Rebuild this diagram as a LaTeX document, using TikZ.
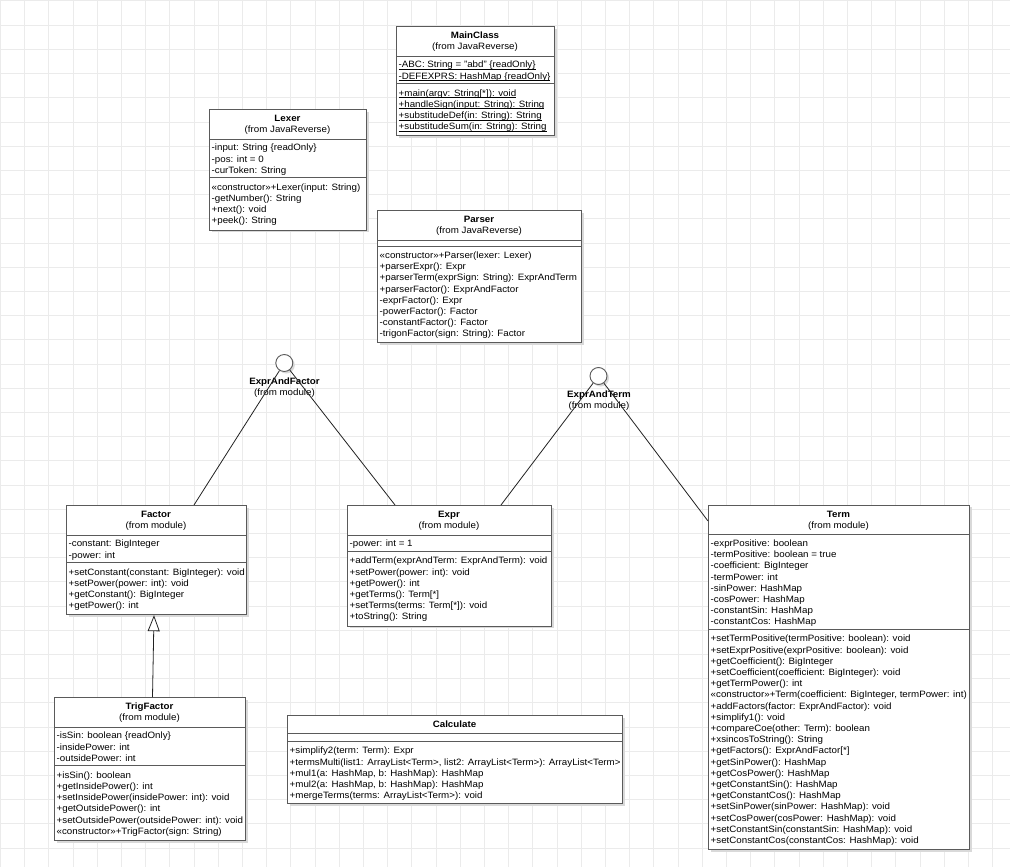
\documentclass[tikz,border=0pt]{standalone}
\usepackage{fontspec}
\setmainfont[FakeStretch=1.06]{Liberation Sans}
\usetikzlibrary{arrows.meta,shadows}
\definecolor{gridc}{HTML}{EBEBEB}
\definecolor{boxc}{HTML}{5A5A5A}
\definecolor{shadowc}{HTML}{D9D9D9}
\definecolor{linec}{HTML}{222222}
\newcommand\umlfont{\fontsize{9.2}{11.2}\selectfont}
\newcommand\fl{\rule{0pt}{9pt}}
\newcommand\ulx[1]{\setbox0\hbox{#1}\rlap{\rule[-1.6pt]{\wd0}{0.55pt}}\box0}
\tikzset{
  gridline/.style={draw=gridc, line width=1pt},
  classbox/.style={draw=boxc, fill=white, line width=0.9pt, inner sep=0pt, anchor=north west,
    drop shadow={shadow xshift=2.5pt, shadow yshift=-2.5pt, fill=shadowc, opacity=1}},
  sepline/.style={draw=boxc, line width=0.9pt},
  txt/.style={inner sep=0pt, anchor=north west, align=left, font=\umlfont, text=black},
  ttl/.style={inner sep=0pt, anchor=base, font=\umlfont\bfseries, text=black},
  frm/.style={inner sep=0pt, anchor=base, font=\umlfont, text=black},
  lolli/.style={circle, draw=boxc, fill=white, line width=0.9pt, minimum size=17pt, inner sep=0pt,
    drop shadow={shadow xshift=2pt, shadow yshift=-2pt, fill=shadowc, opacity=1}},
  conn/.style={draw=linec, line width=0.8pt},
  inh/.style={draw=linec, line width=0.8pt, -{Triangle[open, length=16pt, width=12pt, fill=white]}}
}
\begin{document}
\begin{tikzpicture}[x=1pt,y=-1pt]
\useasboundingbox (0,0) rectangle (1010,867);
\fill[white] (0,0) rectangle (1010,867);
\foreach \i in {0,...,41} { \draw[gridline] (\i*24.2+0.5,0) -- (\i*24.2+0.5,867); }
\foreach \j in {0,...,35} { \draw[gridline] (0,\j*24.2+1) -- (1010,\j*24.2+1); }

% ---------- MainClass ----------
\node[classbox, minimum width=158pt, minimum height=109.3pt] (main) at (396,26) {};
\node[ttl] (mainT) at (475,38.5) {MainClass};
\node[frm] (mainF) at (475,49.5) {(from JavaReverse)};
\draw[sepline] (396,56) -- (554,56);
\node[txt] (mainA) at (398.5,58.7) {\fl\ulx{-ABC: String = "abd" \{readOnly\}}\\\ulx{-DEFEXPRS: HashMap \{readOnly\}}};
\draw[sepline] (396,83.7) -- (554,83.7);
\node[txt] (mainM) at (398.5,86.9) {\fl\ulx{+main(argv: String[*]): void}\\\ulx{+handleSign(input: String): String}\\\ulx{+substitudeDef(in: String): String}\\\ulx{+substitudeSum(in: String): String}};

% ---------- Lexer ----------
\node[classbox, minimum width=157pt, minimum height=120.5pt] (lexer) at (209,109) {};
\node[ttl] (lexT) at (287.5,121.5) {Lexer};
\node[frm] (lexF) at (287.5,132.5) {(from JavaReverse)};
\draw[sepline] (209,139) -- (366,139);
\node[txt] (lexA) at (211.5,141.7) {\fl-input: String \{readOnly\}\\-pos: int = 0\\-curToken: String};
\draw[sepline] (209,177.9) -- (366,177.9);
\node[txt] (lexM) at (211.5,181.1) {\fl«constructor»+Lexer(input: String)\\-getNumber(): String\\+next(): void\\+peek(): String};

% ---------- Parser ----------
\node[classbox, minimum width=204pt, minimum height=132.4pt] (parser) at (377,210) {};
\node[ttl] (parT) at (479,222.5) {Parser};
\node[frm] (parF) at (479,233.5) {(from JavaReverse)};
\draw[sepline] (377,240) -- (581,240);
\draw[sepline] (377,246) -- (581,246);
\node[txt] (parM) at (379.5,249.2) {\fl«constructor»+Parser(lexer: Lexer)\\+parserExpr(): Expr\\+parserTerm(exprSign: String): ExprAndTerm\\+parserFactor(): ExprAndFactor\\-exprFactor(): Expr\\-powerFactor(): Factor\\-constantFactor(): Factor\\-trigonFactor(sign: String): Factor};

% ---------- Interfaces ----------
\node[lolli] (ef) at (284.3,363) {};
\node[ttl] (efT) at (284.5,384.2) {ExprAndFactor};
\node[frm] (efF) at (284.5,395.2) {(from module)};
\node[lolli] (et) at (598.5,376) {};
\node[ttl] (etT) at (599,397.2) {ExprAndTerm};
\node[frm] (etF) at (599,408.2) {(from module)};

% ---------- Factor ----------
\node[classbox, minimum width=180pt, minimum height=109.3pt] (factor) at (66,505) {};
\node[ttl] (facT) at (156,517.5) {Factor};
\node[frm] (facF) at (156,528.5) {(from module)};
\draw[sepline] (66,535) -- (246,535);
\node[txt] (facA) at (68.5,537.7) {\fl-constant: BigInteger\\-power: int};
\draw[sepline] (66,562.7) -- (246,562.7);
\node[txt] (facM) at (68.5,565.9) {\fl+setConstant(constant: BigInteger): void\\+setPower(power: int): void\\+getConstant(): BigInteger\\+getPower(): int};

% ---------- Expr ----------
\node[classbox, minimum width=204pt, minimum height=120.5pt] (expr) at (347,505) {};
\node[ttl] (expT) at (449,517.5) {Expr};
\node[frm] (expF) at (449,528.5) {(from module)};
\draw[sepline] (347,535) -- (551,535);
\node[txt] (expA) at (349.5,537.7) {\fl-power: int = 1};
\draw[sepline] (347,551.5) -- (551,551.5);
\node[txt] (expM) at (349.5,554.7) {\fl+addTerm(exprAndTerm: ExprAndTerm): void\\+setPower(power: int): void\\+getPower(): int\\+getTerms(): Term[*]\\+setTerms(terms: Term[*]): void\\+toString(): String};

% ---------- Term ----------
\node[classbox, minimum width=261pt, minimum height=344.5pt] (term) at (708,504.5) {};
\node[ttl] (terT) at (838.5,517) {Term};
\node[frm] (terF) at (838.5,528) {(from module)};
\draw[sepline] (708,534.5) -- (969,534.5);
\node[txt] (terA) at (710.5,537.2) {\fl-exprPositive: boolean\\-termPositive: boolean = true\\-coefficient: BigInteger\\-termPower: int\\-sinPower: HashMap\\-cosPower: HashMap\\-constantSin: HashMap\\-constantCos: HashMap};
\draw[sepline] (708,629.4) -- (969,629.4);
\node[txt] (terM) at (710.5,632.6) {\fl+setTermPositive(termPositive: boolean): void\\+setExprPositive(exprPositive: boolean): void\\+getCoefficient(): BigInteger\\+setCoefficient(coefficient: BigInteger): void\\+getTermPower(): int\\«constructor»+Term(coefficient: BigInteger, termPower: int)\\+addFactors(factor: ExprAndFactor): void\\+simplify1(): void\\+compareCoe(other: Term): boolean\\+xsincosToString(): String\\+getFactors(): ExprAndFactor[*]\\+getSinPower(): HashMap\\+getCosPower(): HashMap\\+getConstantSin(): HashMap\\+getConstantCos(): HashMap\\+setSinPower(sinPower: HashMap): void\\+setCosPower(cosPower: HashMap): void\\+setConstantSin(constantSin: HashMap): void\\+setConstantCos(constantCos: HashMap): void};

% ---------- TrigFactor ----------
\node[classbox, minimum width=191pt, minimum height=142.9pt] (trig) at (54,697) {};
\node[ttl] (trgT) at (149.5,709.5) {TrigFactor};
\node[frm] (trgF) at (149.5,720.5) {(from module)};
\draw[sepline] (54,727) -- (245,727);
\node[txt] (trgA) at (56.5,729.7) {\fl-isSin: boolean \{readOnly\}\\-insidePower: int\\-outsidePower: int};
\draw[sepline] (54,765.9) -- (245,765.9);
\node[txt] (trgM) at (56.5,769.1) {\fl+isSin(): boolean\\+getInsidePower(): int\\+setInsidePower(insidePower: int): void\\+getOutsidePower(): int\\+setOutsidePower(outsidePower: int): void\\«constructor»+TrigFactor(sign: String)};

% ---------- Calculate ----------
\node[classbox, minimum width=335pt, minimum height=88pt] (calc) at (287,715) {};
\node[ttl] (calT) at (454.5,727.2) {Calculate};
\draw[sepline] (287,733) -- (622,733);
\draw[sepline] (287,741.5) -- (622,741.5);
\node[txt] (calM) at (289.5,744.7) {\fl+simplify2(term: Term): Expr\\+termsMulti(list1: ArrayList<Term>, list2: ArrayList<Term>): ArrayList<Term>\\+mul1(a: HashMap, b: HashMap): HashMap\\+mul2(a: HashMap, b: HashMap): HashMap\\+mergeTerms(terms: ArrayList<Term>): void};

% ---------- Connectors ----------
\coordinate (facTop) at ([xshift=128pt]factor.north west);
\coordinate (expTopL) at ([xshift=48pt]expr.north west);
\coordinate (expTopR) at ([xshift=154pt]expr.north west);
\coordinate (terLeft) at ([yshift=-16.5pt]term.north west);
\coordinate (trgTop) at ([xshift=98.5pt]trig.north west);
\coordinate (facBot) at ([xshift=88pt]factor.south west);
\draw[conn] (ef) -- (facTop);
\draw[conn] (ef) -- (expTopL);
\draw[conn] (et) -- (expTopR);
\draw[conn] (et) -- (terLeft);
\draw[inh] (trgTop) -- (facBot);
\end{tikzpicture}
\end{document}
